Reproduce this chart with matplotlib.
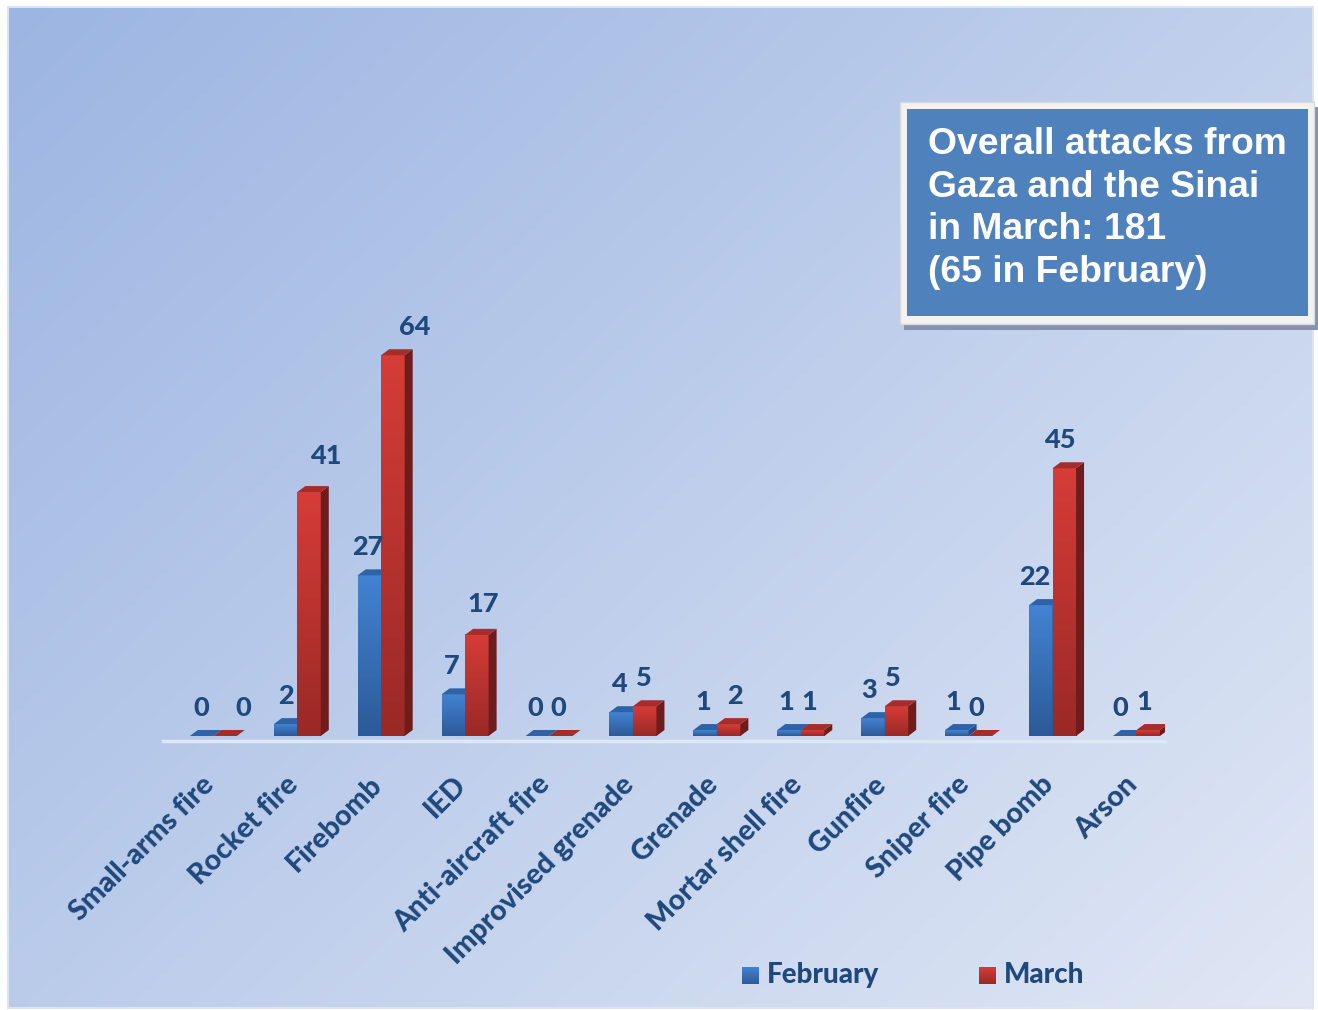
import numpy as np
import matplotlib
matplotlib.use('Agg')
import matplotlib.pyplot as plt
from matplotlib.patches import Rectangle, Polygon
from matplotlib.colors import LinearSegmentedColormap
import matplotlib.transforms as mtransforms

# data
categories = ['Small-arms fire', 'Rocket fire', 'Firebomb', 'IED', 'Anti-aircraft fire',
              'Improvised grenade', 'Grenade', 'Mortar shell fire', 'Gunfire', 'Sniper fire',
              'Pipe bomb', 'Arson']
february = [0, 2, 27, 7, 0, 4, 1, 1, 3, 1, 22, 0]
march = [0, 41, 64, 17, 0, 5, 2, 1, 5, 0, 45, 1]
series_names = ['February', 'March']
box_text = 'Overall attacks from\nGaza and the Sinai\nin March: 181\n(65 in February)'

# label nudges in pixels (Excel moved some labels around)
feb_dx = [0, 0, -2, -2, -2, -2, -2, -3, -4, -4, -6, -4]
mar_dx = [18, 17, 22, 6, -3, -1, 6, -3, -4, -4, -5, -4]
mar_dy = [0, 8, 0, 3, 0, 0, 0, 0, 0, 0, 0, 0]

TEXT = '#1f497d'
FONT = 'Lato'
WEIGHT = 900
BLUE = dict(top='#4383d2', bottom='#2c5a98', side='#274f87', cap='#2f63a8')
RED = dict(top='#d63c38', bottom='#9a2926', side='#6e1d1c', cap='#a52d2a')

W, H, DPI = 1318, 1010, 100
fig = plt.figure(figsize=(W / DPI, H / DPI), dpi=DPI, facecolor='white')

# background in pixel coordinates
bg = fig.add_axes([0, 0, 1, 1], zorder=-10)
bg.set_axis_off()
xx, yy = np.meshgrid(np.linspace(0, 1, 300), np.linspace(0, 1, 300))
t = xx * 0.55 + yy * 0.45
c0 = np.array([156, 181, 226]) / 255
c1 = np.array([224, 231, 245]) / 255
img = c0 + (c1 - c0) * t[..., None]
bg.imshow(img, extent=[8, 1313, 1008, 7], aspect='auto', origin='upper', interpolation='bilinear')
bg.add_patch(Rectangle((8, 7), 1305, 1001, fill=False, edgecolor='#dbe4f2', lw=1.5))
bg.set_xlim(0, W)
bg.set_ylim(H, 0)

# main chart axes
ax = fig.add_axes([163 / W, (H - 736) / H, (1165 - 163) / W, 416.5 / H])
ax.patch.set_facecolor('none')
xmin, xmax, ymax = -0.6, 11.34, 70
ax.set_xlim(xmin, xmax)
ax.set_ylim(0, ymax)
for s in ax.spines.values():
    s.set_visible(False)
ax.set_yticks([])

ax_wpx = (1165 - 163)
ax_hpx = 416.5
dx = 8 * (xmax - xmin) / ax_wpx
dy = 6 * ymax / ax_hpx
w = 23.5 * (xmax - xmin) / ax_wpx
grad = np.linspace(0, 1, 64).reshape(-1, 1)


def bar3d(x0, h, col, z):
    cm = LinearSegmentedColormap.from_list('g', [col['bottom'], col['top']])
    if h > 0:
        ax.imshow(grad, extent=[x0, x0 + w, 0, h], origin='lower', cmap=cm,
                  aspect='auto', zorder=z, interpolation='bilinear')
        ax.add_patch(Polygon([(x0 + w, 0), (x0 + w, h), (x0 + w + dx, h + dy), (x0 + w + dx, dy)],
                             closed=True, facecolor=col['side'], edgecolor='none', zorder=z))
    ax.add_patch(Polygon([(x0, h), (x0 + w, h), (x0 + w + dx, h + dy), (x0 + dx, h + dy)],
                         closed=True, facecolor=col['cap'], edgecolor='none', zorder=z))


x = np.arange(len(categories))
for i in x:
    bar3d(i - w, february[i], BLUE, 3)
    bar3d(i, march[i], RED, 4)
    ax.annotate(str(february[i]), (i - w / 2, february[i]),
                xytext=(feb_dx[i] * 0.72, 20 * 0.72), textcoords='offset points',
                ha='center', va='baseline', fontsize=19.5, fontweight=WEIGHT,
                color=TEXT, family=FONT, zorder=6)
    ax.annotate(str(march[i]), (i + w / 2, march[i]),
                xytext=(mar_dx[i] * 0.72, (20 + mar_dy[i]) * 0.72), textcoords='offset points',
                ha='center', va='baseline', fontsize=19.5, fontweight=WEIGHT,
                color=TEXT, family=FONT, zorder=6)

ax.set_xlim(xmin, xmax)
ax.set_ylim(0, ymax)

# floor line
ax.plot([xmin, xmax], [-0.8, -0.8], color='#dde7f6', lw=2.5, clip_on=False, zorder=1)

ax.set_xticks(x)
ax.set_xticklabels(categories, rotation=45, ha='right', va='center', rotation_mode='anchor',
                   fontsize=20.5, fontweight=WEIGHT, color=TEXT, family=FONT)
ax.tick_params(axis='x', length=0, pad=32)
offset = mtransforms.ScaledTranslation(-3 / DPI, 0, fig.dpi_scale_trans)
for lab in ax.get_xticklabels():
    lab.set_transform(lab.get_transform() + offset)

# info box
bg.add_patch(Rectangle((904, 107), 414, 223, facecolor='#8492ad', edgecolor='none'))
bg.add_patch(Rectangle((900, 102), 414, 222, facecolor='#f2f2f2', edgecolor='#d9d9d9', lw=1))
bg.add_patch(Rectangle((907, 109), 401, 207, facecolor='#4f81bd', edgecolor='none'))
bg.text(928, 127, box_text, ha='left', va='top', fontsize=26.8, fontweight='bold',
        family='Liberation Sans', color='white', linespacing=1.28)

# legend
leg_x = [742, 979]
for sx, name, col in zip(leg_x, series_names, [BLUE, RED]):
    cm = LinearSegmentedColormap.from_list('g', [col['bottom'], col['top']])
    bg.imshow(grad, extent=[sx, sx + 17, 984, 967], origin='lower', cmap=cm, aspect='auto')
    bg.text(sx + 25, 975, name, ha='left', va='center', fontsize=20, fontweight=WEIGHT,
            family=FONT, color=TEXT)
bg.set_xlim(0, W)
bg.set_ylim(H, 0)

fig.savefig('out.png', dpi=DPI, facecolor='white')
